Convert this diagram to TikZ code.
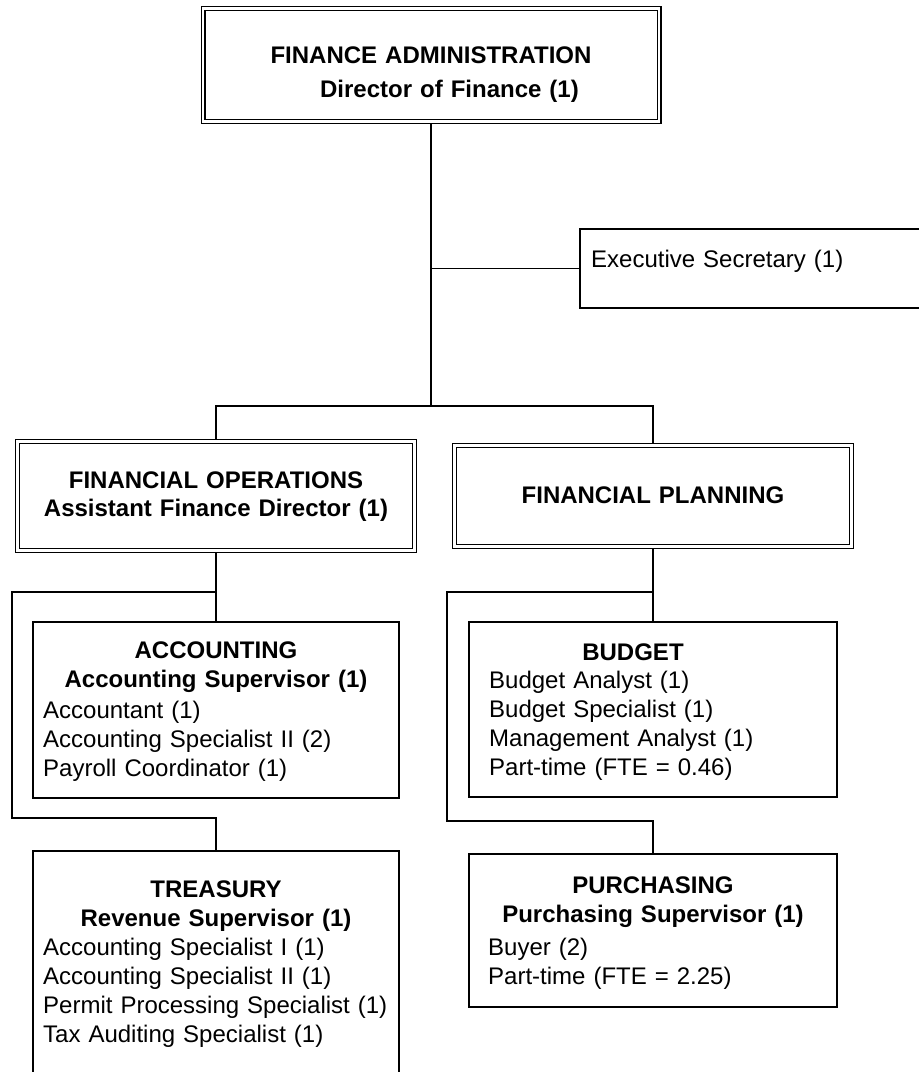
\documentclass[tikz,border=0pt]{standalone}
\usepackage{fontspec}
\setmainfont{Liberation Sans}
\usetikzlibrary{calc,backgrounds}
\tikzset{
  unitbox/.style={draw,line width=1.4pt,inner sep=0pt},
  deptbox/.style={draw,double,line width=1.1pt,double distance=2.8pt,inner sep=0pt},
  headtext/.style={font=\bfseries\fontsize{24}{29}\selectfont,text width=#1,align=center,anchor=base,inner sep=0pt},
  bodytext/.style={font=\fontsize{24}{29}\selectfont,text width=360pt,align=left,anchor=base west,inner sep=0pt},
  link/.style={line width=1.3pt}
}

\begin{document}
\begin{tikzpicture}[x=1pt,y=-1pt,line join=miter]
    \clip (0,0) rectangle (919,1072);
    \node[deptbox,minimum width=456pt,minimum height=113pt] (admin) at (431,65) {};
    \node[headtext=456pt] (admintext) at (431,63) {FINANCE ADMINISTRATION\\[5pt]\hspace*{37pt}Director of Finance (1)};
    \node[unitbox,minimum width=380pt,minimum height=79pt] (exec) at (770,268.5) {};
    \node[bodytext] (exectext) at (591,267) {Executive Secretary (1)};
    \node[deptbox,minimum width=397pt,minimum height=109pt] (finops) at (216,496) {};
    \node[headtext=397pt] (finopstext) at (216,488) {FINANCIAL OPERATIONS\\[-1pt]Assistant Finance Director (1)};
    \node[deptbox,minimum width=397pt,minimum height=101pt] (finplan) at (653,496) {};
    \node[headtext=397pt] (finplantext) at (653,503) {FINANCIAL PLANNING};
    \node[unitbox,minimum width=366pt,minimum height=176pt] (acct) at (216,710) {};
    \node[headtext=366pt] (accthead) at (216,658) {ACCOUNTING\\Accounting Supervisor (1)};
    \node[bodytext] (acctbody) at (43,718) {Accountant (1)\\Accounting Specialist II (2)\\Payroll Coordinator (1)};
    \node[unitbox,minimum width=366pt,minimum height=249pt] (treas) at (216,975.5) {};
    \node[headtext=366pt] (treashead) at (216,897) {TREASURY\\Revenue Supervisor (1)};
    \node[bodytext] (treasbody) at (43,955) {Accounting Specialist I (1)\\Accounting Specialist II (1)\\Permit Processing Specialist (1)\\Tax Auditing Specialist (1)};
    \node[unitbox,minimum width=368pt,minimum height=175pt] (budget) at (653,709.5) {};
    \node[headtext=368pt] (budgethead) at (633,660) {BUDGET};
    \node[bodytext] (budgetbody) at (489,688) {Budget Analyst (1)\\Budget Specialist (1)\\Management Analyst (1)\\Part-time (FTE = 0.46)};
    \node[unitbox,minimum width=368pt,minimum height=153pt] (purch) at (653,930.5) {};
    \node[headtext=368pt] (purchhead) at (653,893) {PURCHASING\\Purchasing Supervisor (1)};
    \node[bodytext] (purchbody) at (488,955) {Buyer (2)\\Part-time (FTE = 2.25)};
    \coordinate (hub) at (431,406);
    \coordinate (opsturn) at (12,592);
    \coordinate (opsdrop) at (12,818);
    \coordinate (planturn) at (447,592);
    \coordinate (plandrop) at (447,821);
    \begin{scope}[on background layer]
    \draw[link,line width=2pt] (admin.south) -- (hub);
    \draw[link] (admin.south |- exec.west) -- (exec.west);
    \draw[link] (finops.north) |- (hub) -| (finplan.north);
    \draw[link] (finops.south) -- (acct.north);
    \draw[link] (finops.south |- opsturn) -- (opsturn) -- (opsdrop) -| (treas.north);
    \draw[link] (finplan.south) -- (budget.north);
    \draw[link] (finplan.south |- planturn) -- (planturn) -- (plandrop) -| (purch.north);
    \end{scope}
\end{tikzpicture}
\end{document}
